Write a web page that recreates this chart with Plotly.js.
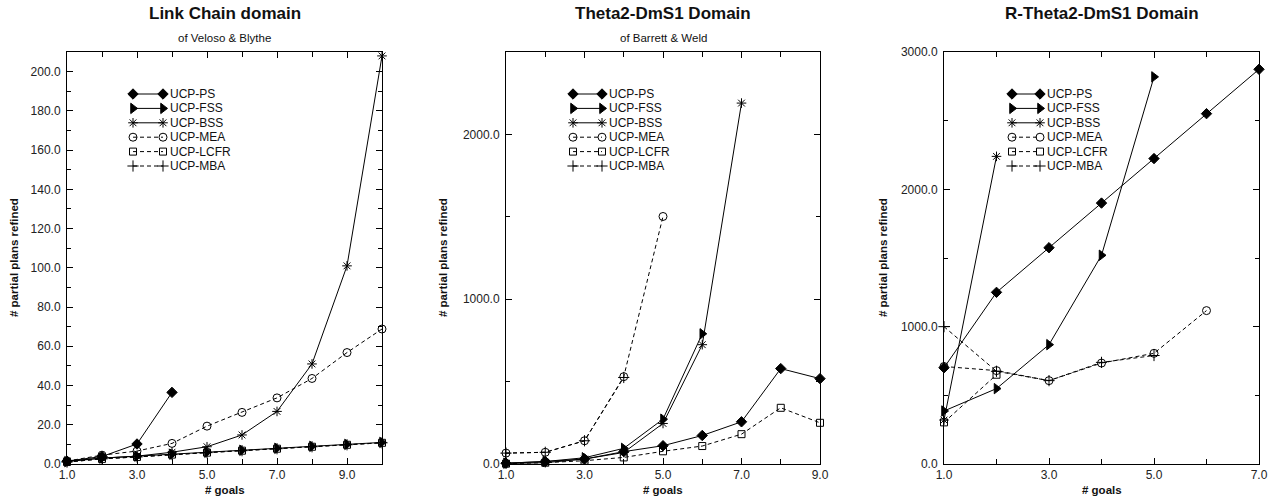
<!DOCTYPE html>
<html>
<head>
<meta charset="utf-8">
<script src="https://cdn.plot.ly/plotly-3.0.1.min.js"></script>
<style>html,body{margin:0;padding:0;background:#fff;}#chart{width:1271px;height:501px;}</style>
</head>
<body>
<div id="chart"></div>
<script>
// ---------- data ----------
const seriesNames = ['UCP-PS', 'UCP-FSS', 'UCP-BSS', 'UCP-MEA', 'UCP-LCFR', 'UCP-MBA'];

// Panel 1: Link Chain domain
const linkGoals = [1, 2, 3, 4, 5, 6, 7, 8, 9, 10];
const linkPS   = [1.5, 3.8, 10.2, 36.5];
const linkFSS  = [1.2, 3, 4, 5, 6, 7, 8, 9, 10, 11];
const linkBSS  = [1.5, 3, 4, 6, 8.8, 14.8, 26.8, 51, 101, 208];
const linkMEA  = [1.5, 4.5, 6.6, 10.5, 19.3, 26.3, 33.7, 43.6, 56.8, 68.8];
const linkLCFR = [1, 2.6, 3.6, 4.8, 5.8, 6.8, 7.8, 8.8, 9.8, 10.8];
const linkMBA  = [1, 2.6, 3.6, 4.8, 5.8, 6.8, 7.8, 8.8, 9.8, 10.8];

// Panel 2: Theta2-DmS1 Domain
const thetaGoals = [1, 2, 3, 4, 5, 6, 7, 8, 9];
const thetaPS   = [5, 15, 30, 75, 111, 173, 256, 579, 518];
const thetaFSS  = [5, 15, 38, 95, 272, 790];
const thetaBSS  = [3, 8, 30, 70, 246, 724, 2190];
const thetaMEA  = [66, 71, 141, 530, 1502];
const thetaLCFR = [2, 8, 20, 40, 77, 109, 181, 341, 250];
const thetaMBA  = [66, 71, 141, 525];

// Panel 3: R-Theta2-DmS1 Domain
const rthetaGoals = [1, 2, 3, 4, 5, 6, 7];
const rthetaPS   = [701, 1250, 1575, 1900, 2224, 2551, 2874];
const rthetaFSS  = [386, 549, 869, 1520, 2819];
const rthetaBSS  = [320, 2240];
const rthetaMEA  = [710, 680, 607, 735, 806, 1117];
const rthetaLCFR = [303, 650];
const rthetaMBA  = [1000, 675, 607, 740, 790];

const panelTitles = ['Link Chain domain', 'Theta2-DmS1 Domain', 'R-Theta2-DmS1 Domain'];
const panelSubtitles = ['of Veloso & Blythe', 'of Barrett & Weld', ''];
const xTitle = '# goals';
const yTitle = '# partial plans refined';

// ---------- styles ----------
const FONT = 'Liberation Sans, Arial, Helvetica, sans-serif';
const DASH = '4px,3px';
const styles = {
  'UCP-PS':   {symbol: 'diamond',         dash: 'solid', size: 8},
  'UCP-FSS':  {symbol: 'triangle-right',  dash: 'solid', size: 9},
  'UCP-BSS':  {symbol: 'asterisk-open',   dash: 'solid', size: 8},
  'UCP-MEA':  {symbol: 'circle-open',     dash: DASH,    size: 8},
  'UCP-LCFR': {symbol: 'square-open',     dash: DASH,    size: 7},
  'UCP-MBA':  {symbol: 'cross-thin-open', dash: DASH,    size: 8}
};

const panels = [
  {goals: linkGoals, vals: [linkPS, linkFSS, linkBSS, linkMEA, linkLCFR, linkMBA],
   xr: [1, 10], yr: [0, 210], ydt: 20, ymin: 10, px: [67, 382], leg: [133, 163]},
  {goals: thetaGoals, vals: [thetaPS, thetaFSS, thetaBSS, thetaMEA, thetaLCFR, thetaMBA],
   xr: [1, 9], yr: [0, 2500], ydt: 1000, ymin: 500, px: [506, 820], leg: [573, 602]},
  {goals: rthetaGoals, vals: [rthetaPS, rthetaFSS, rthetaBSS, rthetaMEA, rthetaLCFR, rthetaMBA],
   xr: [1, 7], yr: [0, 3000], ydt: 1000, ymin: 500, px: [944, 1259], leg: [1012, 1040]}
];

const W = 1271, H = 501;
const plotTop = 52, plotBot = 464;
const legTop = 94, legStep = 14.4;
const px2x = p => p / W;
const px2y = p => 1 - p / H;

const traces = [];
const annotations = [];
const layout = {
  width: W, height: H,
  margin: {l: 0, r: 0, t: 0, b: 0},
  paper_bgcolor: '#fff', plot_bgcolor: '#fff',
  showlegend: false,
  font: {family: FONT, size: 12, color: '#111'}
};

panels.forEach((p, k) => {
  const n = k + 1;
  const xa = 'x' + (n === 1 ? '' : n), ya = 'y' + (n === 1 ? '' : n);
  const axBase = {
    showline: true, linecolor: '#000', linewidth: 1, mirror: 'ticks',
    ticks: 'inside', ticklen: 6, tickcolor: '#000', tickwidth: 1,
    showgrid: false, zeroline: false, fixedrange: true,
    tickformat: '.1f', tickfont: {family: FONT, size: 12, color: '#222'}
  };
  layout['xaxis' + (n === 1 ? '' : n)] = Object.assign({}, axBase, {
    domain: [px2x(p.px[0]), px2x(p.px[1])], range: p.xr, anchor: ya,
    tick0: 1, dtick: 2,
    minor: {ticks: 'inside', ticklen: 5, dtick: 1, tick0: 1, tickcolor: '#000', showgrid: false}
  });
  layout['yaxis' + (n === 1 ? '' : n)] = Object.assign({}, axBase, {
    domain: [px2y(plotBot), px2y(plotTop)], range: p.yr, anchor: xa,
    tick0: 0, dtick: p.ydt, ticklabelstandoff: 3,
    minor: {ticks: 'inside', ticklen: 4, dtick: p.ymin, tick0: 0, tickcolor: '#000', showgrid: false}
  });

  // data traces
  seriesNames.forEach((name, i) => {
    const s = styles[name];
    const v = p.vals[i];
    traces.push({
      type: 'scatter', mode: 'lines+markers', name: name,
      x: p.goals.slice(0, v.length), y: v,
      xaxis: xa, yaxis: ya, cliponaxis: false,
      line: {color: '#000', width: 1, dash: s.dash},
      marker: {symbol: s.symbol, size: s.size, color: '#000', line: {color: '#000', width: 1}},
      hoverinfo: 'x+y+name'
    });
  });

  // custom legend (axis of its own, one row per series)
  const lx = 'x' + (n + 3), ly = 'y' + (n + 3);
  layout['xaxis' + (n + 3)] = {domain: [px2x(p.leg[0]), px2x(p.leg[1])], range: [0, 1], visible: false, fixedrange: true, anchor: ly};
  layout['yaxis' + (n + 3)] = {
    domain: [px2y(legTop + (seriesNames.length - 0.5) * legStep), px2y(legTop - 0.5 * legStep)],
    range: [seriesNames.length - 0.5, -0.5], visible: false, fixedrange: true, anchor: lx
  };
  seriesNames.forEach((name, i) => {
    const s = styles[name];
    traces.push({
      type: 'scatter', mode: 'lines+markers', showlegend: false, hoverinfo: 'skip',
      x: [0, 1], y: [i, i], xaxis: lx, yaxis: ly, cliponaxis: false,
      line: {color: '#000', width: 1, dash: s.dash},
      marker: {symbol: s.symbol, size: s.size, color: '#000', line: {color: '#000', width: 1}}
    });
    annotations.push({
      xref: lx, yref: ly, x: 1, y: i, xanchor: 'left', yanchor: 'middle', xshift: 5,
      text: name, showarrow: false, font: {family: FONT, size: 12, color: '#111'}
    });
  });

  const cx = (p.px[0] + p.px[1]) / 2;
  annotations.push({
    xref: 'paper', yref: 'paper', x: px2x(cx), y: px2y(13), xanchor: 'center', yanchor: 'middle',
    text: '<b>' + panelTitles[k] + '</b>', showarrow: false, font: {family: FONT, size: 17, color: '#111'}
  });
  if (panelSubtitles[k]) {
    annotations.push({
      xref: 'paper', yref: 'paper', x: px2x(cx), y: px2y(38), xanchor: 'center', yanchor: 'middle',
      text: panelSubtitles[k], showarrow: false, font: {family: FONT, size: 11.5, color: '#111'}
    });
  }
  annotations.push({
    xref: 'paper', yref: 'paper', x: px2x(cx), y: px2y(490), xanchor: 'center', yanchor: 'middle',
    text: '<b>' + xTitle + '</b>', showarrow: false, font: {family: FONT, size: 11.5, color: '#111'}
  });
  const yx = [14, 443, 883][k];
  annotations.push({
    xref: 'paper', yref: 'paper', x: px2x(yx), y: px2y((plotTop + plotBot) / 2), xanchor: 'center', yanchor: 'middle',
    textangle: -90, text: '<b>' + yTitle + '</b>', showarrow: false, font: {family: FONT, size: 11.5, color: '#111'}
  });
});

layout.annotations = annotations;
Plotly.newPlot('chart', traces, layout, {displayModeBar: false, staticPlot: true});
</script>
</body>
</html>
